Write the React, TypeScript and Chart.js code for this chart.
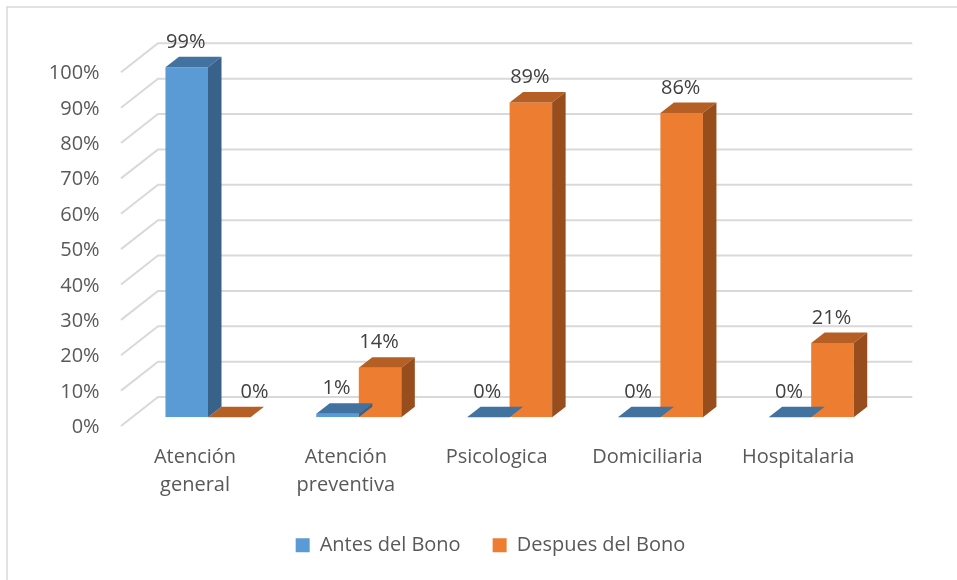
import React, { useEffect, useRef } from "react";
import { Chart, registerables } from "chart.js";

Chart.register(...registerables);

// ---- data ----
const categories: (string | string[])[] = [
  ["Atención", "general"],
  ["Atención", "preventiva"],
  "Psicologica",
  "Domiciliaria",
  "Hospitalaria",
];
const antesDelBono = [99, 1, 0, 0, 0];
const despuesDelBono = [0, 14, 89, 86, 21];
const seriesNames = ["Antes del Bono", "Despues del Bono"];

// ---- styles ----
const FONT = '"Open Sans", "DejaVu Sans", sans-serif';
const FRONT = ["#5B9BD5", "#ED7D31"];
const TOP = ["#4272A0", "#B65F24"];
const SIDE = ["#386289", "#974D1C"];
const DEPTH_X = 13.5;
const DEPTH_Y = 10.5;

const framePlugin = {
  id: "frame",
  beforeDraw(chart: any) {
    const ctx = chart.ctx;
    ctx.save();
    ctx.fillStyle = "#FFFFFF";
    ctx.fillRect(0, 0, chart.width, chart.height);
    ctx.strokeStyle = "#D9D9D9";
    ctx.lineWidth = 1.5;
    ctx.strokeRect(7, 7, chart.width + 20, chart.height + 20);
    ctx.restore();
  },
};

const gridPlugin = {
  id: "grid3d",
  beforeDatasetsDraw(chart: any) {
    const ctx = chart.ctx;
    const y = chart.scales.y;
    const { left, right } = chart.chartArea;
    ctx.save();
    ctx.strokeStyle = "#D9D9D9";
    ctx.lineWidth = 2;
    y.ticks.forEach((t: any) => {
      const by = y.getPixelForValue(t.value);
      ctx.beginPath();
      ctx.moveTo(left - 11.6, by + 8.7);
      ctx.lineTo(left + 25.4, by - 20.3);
      ctx.lineTo(right + 25.7, by - 20.3);
      ctx.stroke();
    });
    ctx.restore();
  },
};

const bar3dPlugin = {
  id: "bar3d",
  afterDatasetDraw(chart: any, args: any) {
    const ctx = chart.ctx;
    const i = args.index;
    const meta = args.meta;
    ctx.save();
    meta.data.forEach((bar: any) => {
      const { x, y, base, width } = bar.getProps(["x", "y", "base", "width"], true);
      const l = x - width / 2;
      const r = x + width / 2;
      ctx.fillStyle = TOP[i];
      ctx.beginPath();
      ctx.moveTo(l, y);
      ctx.lineTo(l + DEPTH_X, y - DEPTH_Y);
      ctx.lineTo(r + DEPTH_X, y - DEPTH_Y);
      ctx.lineTo(r, y);
      ctx.closePath();
      ctx.fill();
      if (base - y > 0.5) {
        ctx.fillStyle = SIDE[i];
        ctx.beginPath();
        ctx.moveTo(r, y);
        ctx.lineTo(r + DEPTH_X, y - DEPTH_Y);
        ctx.lineTo(r + DEPTH_X, base - DEPTH_Y);
        ctx.lineTo(r, base);
        ctx.closePath();
        ctx.fill();
      }
    });
    ctx.restore();
  },
};

const labelPlugin = {
  id: "labels3d",
  afterDatasetsDraw(chart: any) {
    const ctx = chart.ctx;
    ctx.save();
    ctx.font = `20px ${FONT}`;
    ctx.fillStyle = "#404040";
    ctx.textAlign = "center";
    ctx.textBaseline = "middle";
    const metas = chart.getSortedVisibleDatasetMetas();
    metas.forEach((meta: any) => {
      meta.data.forEach((bar: any, j: number) => {
        const v = chart.data.datasets[meta.index].data[j];
        const text = `${v}%`;
        const w = ctx.measureText(text).width;
        let cx = bar.x - 1;
        const cy = bar.y - 25;
        metas.forEach((other: any) => {
          if (other === meta) return;
          const ob = other.data[j];
          const oL = ob.x - ob.width / 2;
          const oR = ob.x + ob.width / 2 + DEPTH_X;
          if (ob.y - DEPTH_Y < cy + 10 && cx - w / 2 < oR && cx + w / 2 > oL) {
            cx = cx > ob.x ? oR + 19 + w / 2 : oL - 19 - w / 2;
          }
        });
        ctx.fillText(text, cx, cy);
      });
    });
    ctx.restore();
  },
};

export default function App() {
  const canvasRef = useRef<HTMLCanvasElement | null>(null);

  useEffect(() => {
    if (!canvasRef.current) return;
    const chart = new Chart(canvasRef.current, {
      type: "bar",
      data: {
        labels: categories,
        datasets: [
          {
            label: seriesNames[0],
            data: antesDelBono,
            backgroundColor: FRONT[0],
            borderWidth: 0,
            categoryPercentage: 0.564,
            barPercentage: 1,
          },
          {
            label: seriesNames[1],
            data: despuesDelBono,
            backgroundColor: FRONT[1],
            borderWidth: 0,
            categoryPercentage: 0.564,
            barPercentage: 1,
          },
        ],
      },
      options: {
        responsive: false,
        animation: false,
        devicePixelRatio: 1,
        layout: { padding: { top: 63.6, left: 24, right: 0, bottom: 14.7 } },
        plugins: {
          tooltip: { enabled: false },
          legend: {
            position: "bottom",
            labels: {
              boxWidth: 14,
              boxHeight: 14,
              padding: 32,
              color: "#595959",
              font: { family: FONT, size: 20 },
            },
          },
        },
        scales: {
          x: {
            grid: { display: false, drawTicks: false },
            border: { display: false },
            ticks: {
              color: "#595959",
              font: { family: FONT, size: 20, lineHeight: 1.4 },
              padding: 26,
              labelOffset: -13,
              maxRotation: 0,
              autoSkip: false,
            },
            afterFit: (s: any) => {
              s.height = 86;
            },
          },
          y: {
            min: 0,
            max: 100,
            grid: { display: false, drawTicks: false },
            border: { display: false },
            ticks: {
              stepSize: 10,
              color: "#595959",
              font: { family: FONT, size: 20 },
              padding: 33,
              labelOffset: 10,
              callback: (v: any) => `${v}%`,
            },
            afterFit: (s: any) => {
              s.width = 108.6;
            },
          },
          yR: {
            type: "linear",
            position: "right",
            grid: { display: false, drawTicks: false },
            border: { display: false },
            ticks: { display: false },
            afterFit: (s: any) => {
              s.width = 70.4;
            },
          },
        },
      } as any,
      plugins: [framePlugin, gridPlugin, bar3dPlugin, labelPlugin],
    });
    return () => chart.destroy();
  }, []);

  return (
    <div style={{ position: "fixed", left: 0, top: 0, width: 957, height: 580, background: "#fff" }}>
      <canvas ref={canvasRef} width={957} height={580} style={{ width: 957, height: 580 }} />
    </div>
  );
}
